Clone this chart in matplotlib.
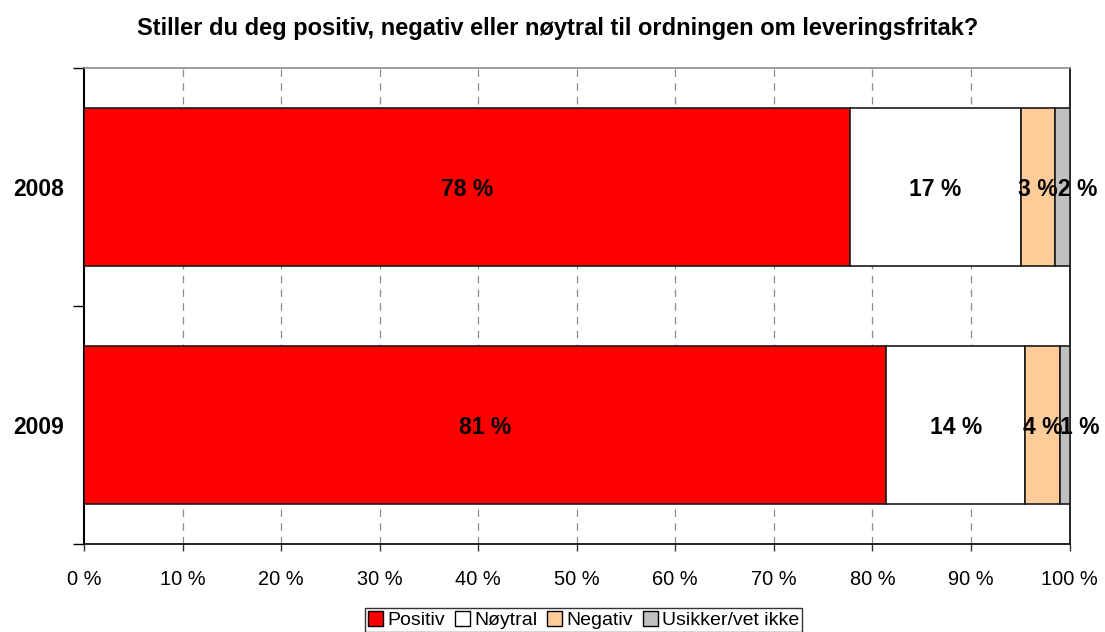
import matplotlib
matplotlib.use("Agg")
import matplotlib.pyplot as plt
from matplotlib.patches import Patch
import numpy as np

plt.rcParams['font.family'] = ['Liberation Sans', 'DejaVu Sans']

title = "Stiller du deg positiv, negativ eller nøytral til ordningen om leveringsfritak?"
years = ["2008", "2009"]
series_names = ["Positiv", "Nøytral", "Negativ", "Usikker/vet ikke"]
positiv = [77.7, 81.4]
noytral = [17.4, 14.1]
negativ = [3.4, 3.5]
usikker = [1.5, 1.0]
labels = [["78 %", "81 %"], ["17 %", "14 %"], ["3 %", "4 %"], ["2 %", "1 %"]]
xticks = [0, 10, 20, 30, 40, 50, 60, 70, 80, 90, 100]
xticklabels = [f"{v} %" for v in xticks]
colors = ["#ff0000", "#ffffff", "#ffcc99", "#c0c0c0"]
label_dx_pts = [0, 0, 0, 11]  # horizontal nudge of data labels (points)

fig = plt.figure(figsize=(11.05, 6.32), dpi=100)
ax = fig.add_axes([84/1105, 1-544/632, (1069.5-84)/1105, (544-68)/632])

data = [positiv, noytral, negativ, usikker]
y = np.arange(len(years))
left = np.zeros(len(years))
for i, vals in enumerate(data):
    vals = np.array(vals)
    ax.barh(y, vals, left=left, height=0.667, color=colors[i],
            edgecolor="#1a1a1a", linewidth=1.2, zorder=3, label=series_names[i])
    for j in range(len(years)):
        ax.annotate(labels[i][j], xy=(left[j] + vals[j]/2, y[j]),
                    xytext=(label_dx_pts[i], 0), textcoords="offset points",
                    ha="center", va="center_baseline", annotation_clip=False,
                    fontsize=16.5, fontweight="bold", color="black", zorder=5)
    left = left + vals

ax.set_xlim(0, 100)
ax.set_ylim(1.5, -0.5)
ax.set_xticks(xticks)
ax.set_xticklabels(xticklabels, fontsize=14.4)
ax.set_yticks(y)
ax.set_yticklabels(years, fontsize=16.5, fontweight="bold")
ax.set_yticks([-0.5, 0.5, 1.5], minor=True)
ax.tick_params(axis="y", which="major", length=0, pad=14.5)
ax.tick_params(axis="y", which="minor", length=8, width=1, color="black", direction="out")
ax.tick_params(axis="x", which="major", length=5, width=1, color="#333333", direction="out", pad=14)

for xv in xticks[1:-1]:
    ax.axvline(xv, color="#8c8c8c", linestyle=(0, (6, 5)), linewidth=0.9, zorder=1)

ax.spines["left"].set_color("black")
ax.spines["left"].set_linewidth(1.5)
ax.spines["bottom"].set_color("black")
ax.spines["bottom"].set_linewidth(1.2)
ax.spines["right"].set_color("black")
ax.spines["right"].set_linewidth(1.2)
ax.spines["top"].set_color("#8c8c8c")
ax.spines["top"].set_linewidth(1.2)

fig.text(557.5/1105, 1-28/632, title, ha="center", va="center", fontsize=17, fontweight="bold")

handles = [Patch(facecolor=c, edgecolor="black", linewidth=1.0) for c in colors]
leg = fig.legend(handles, series_names, loc="center", bbox_to_anchor=(583.5/1105, 1-620/632),
                 ncol=4, fontsize=14, frameon=True, fancybox=False, edgecolor="black",
                 handlelength=0.8, handleheight=0.8, handletextpad=0.2, columnspacing=0.5,
                 borderpad=0.15, borderaxespad=0)
leg.get_frame().set_linewidth(1.0)

fig.savefig("out.png", dpi=100)
